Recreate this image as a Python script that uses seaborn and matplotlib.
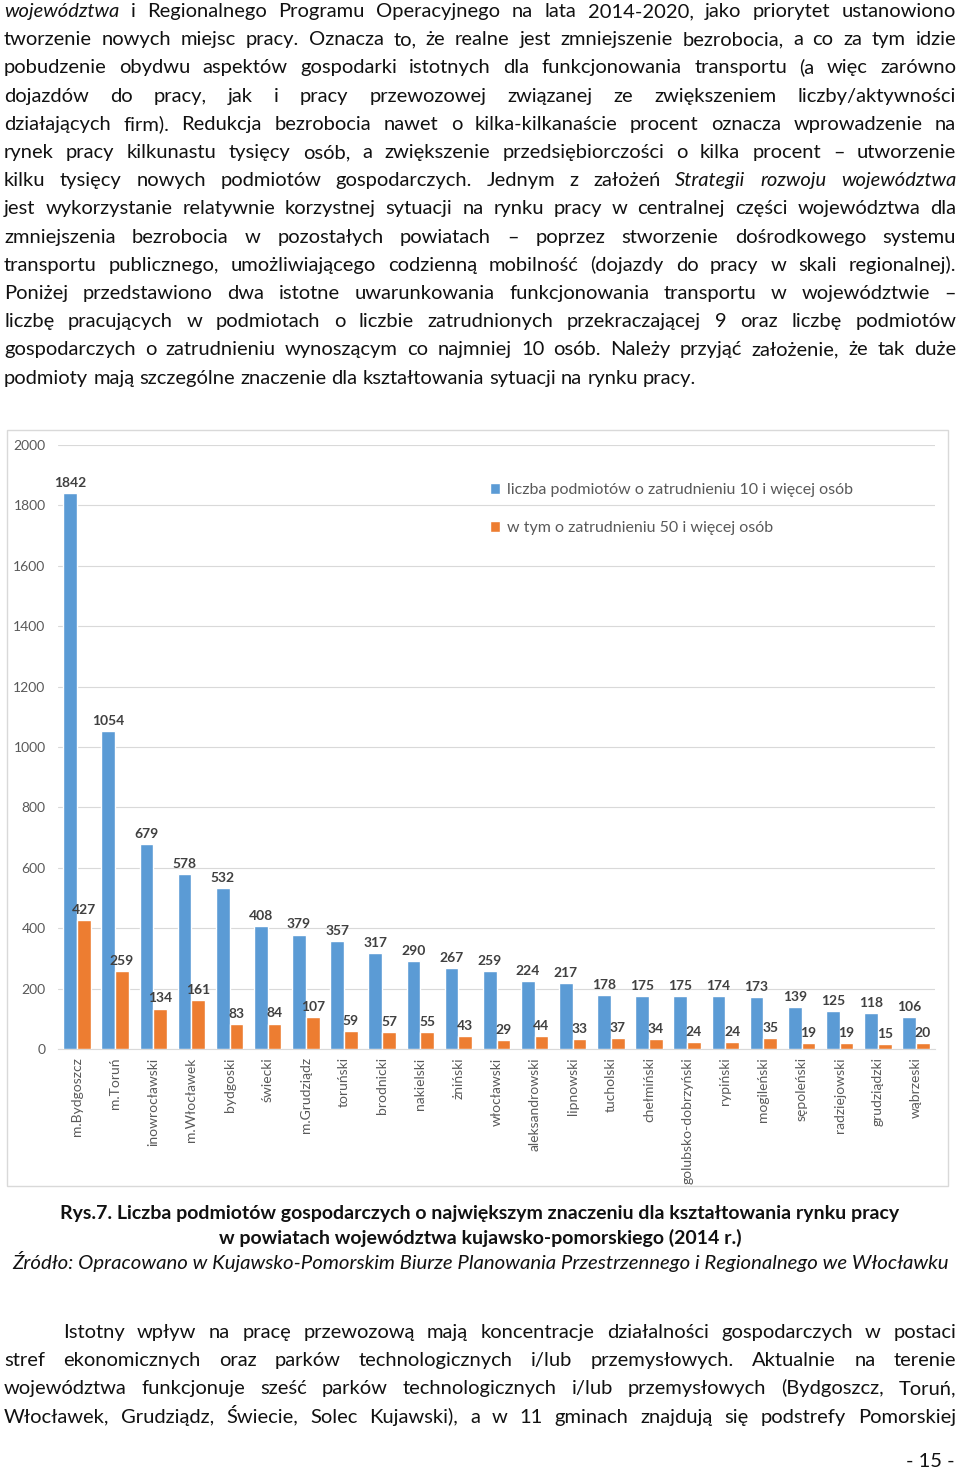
import pandas as pd
import matplotlib.pyplot as plt
import matplotlib.patches as mpatches
import seaborn as sns

# --- dane z wykresu (Rys.7) ---
powiaty = [
    "m.Bydgoszcz", "m.Toruń", "inowrocławski", "m.Włocławek", "bydgoski", "świecki",
    "m.Grudziądz", "toruński", "brodnicki", "nakielski", "żniński", "włocławski",
    "aleksandrowski", "lipnowski", "tucholski", "chełmiński", "golubsko-dobrzyński",
    "rypiński", "mogileński", "sępoleński", "radziejowski", "grudziądzki", "wąbrzeski",
]
podmioty_10 = [1842, 1054, 679, 578, 532, 408, 379, 357, 317, 290, 267, 259,
               224, 217, 178, 175, 175, 174, 173, 139, 125, 118, 106]
podmioty_50 = [427, 259, 134, 161, 83, 84, 107, 59, 57, 55, 43, 29,
               44, 33, 37, 34, 24, 24, 35, 19, 19, 15, 20]
serie = ["liczba podmiotów o zatrudnieniu 10 i więcej osób",
         "w tym o zatrudnieniu 50 i więcej osób"]
y_ticks = list(range(0, 2001, 200))

# --- tekst strony (słowa z * pisane kursywą) ---
akapit_gora = [
    "*województwa i Regionalnego Programu Operacyjnego na lata 2014-2020, jako priorytet ustanowiono",
    "tworzenie nowych miejsc pracy. Oznacza to, że realne jest zmniejszenie bezrobocia, a co za tym idzie",
    "pobudzenie obydwu aspektów gospodarki istotnych dla funkcjonowania transportu (a więc zarówno",
    "dojazdów do pracy, jak i pracy przewozowej związanej ze zwiększeniem liczby/aktywności",
    "działających firm). Redukcja bezrobocia nawet o kilka-kilkanaście procent oznacza wprowadzenie na",
    "rynek pracy kilkunastu tysięcy osób, a zwiększenie przedsiębiorczości o kilka procent – utworzenie",
    "kilku tysięcy nowych podmiotów gospodarczych. Jednym z założeń *Strategii *rozwoju *województwa",
    "jest wykorzystanie relatywnie korzystnej sytuacji na rynku pracy w centralnej części województwa dla",
    "zmniejszenia bezrobocia w pozostałych powiatach – poprzez stworzenie dośrodkowego systemu",
    "transportu publicznego, umożliwiającego codzienną mobilność (dojazdy do pracy w skali regionalnej).",
    "Poniżej przedstawiono dwa istotne uwarunkowania funkcjonowania transportu w województwie –",
    "liczbę pracujących w podmiotach o liczbie zatrudnionych przekraczającej 9 oraz liczbę podmiotów",
    "gospodarczych o zatrudnieniu wynoszącym co najmniej 10 osób. Należy przyjąć założenie, że tak duże",
    "podmioty mają szczególne znaczenie dla kształtowania sytuacji na rynku pracy.",
]
akapit_dol = [
    "Istotny wpływ na pracę przewozową mają koncentracje działalności gospodarczych w postaci",
    "stref ekonomicznych oraz parków technologicznych i/lub przemysłowych. Aktualnie na terenie",
    "województwa funkcjonuje sześć parków technologicznych i/lub przemysłowych (Bydgoszcz, Toruń,",
    "Włocławek, Grudziądz, Świecie, Solec Kujawski), a w 11 gminach znajdują się podstrefy Pomorskiej",
]
podpis = ["Rys.7. Liczba podmiotów gospodarczych o największym znaczeniu dla kształtowania rynku pracy",
          "w powiatach województwa kujawsko-pomorskiego (2014 r.)"]
zrodlo = "Źródło: Opracowano w Kujawsko-Pomorskim Biurze Planowania Przestrzennego i Regionalnego we Włocławku"

BLUE = "#5B9BD5"
ORANGE = "#ED7D31"
GRAY = "#595959"
TXT = "#111111"

sns.set_style("white")
FONT = ["Lato", "DejaVu Sans"]
plt.rcParams["font.family"] = FONT

W, H = 960, 1472
fig = plt.figure(figsize=(W / 100, H / 100), dpi=100)
renderer = fig.canvas.get_renderer()


def fx(x):
    return x / W


def fy(y):
    return 1 - y / H


def width_of(s, size, weight="normal", style="normal"):
    t = fig.text(0, 0, s, fontsize=size, fontweight=weight, fontstyle=style)
    w = t.get_window_extent(renderer).width
    t.remove()
    return w


def split_words(line):
    out = []
    for w in line.split():
        if w.startswith("*"):
            out.append((w[1:], "italic"))
        else:
            out.append((w, "normal"))
    return out


def natural_width(line, size):
    parts = split_words(line)
    sp = width_of("a a", size) - width_of("aa", size)
    return sum(width_of(p, size, style=s) for p, s in parts) + sp * (len(parts) - 1)


def put_line(line, y, x0, x1, size, justify=True):
    parts = split_words(line)
    widths = [width_of(p, size, style=s) for p, s in parts]
    sp = width_of("a a", size) - width_of("aa", size)
    gap = (x1 - x0 - sum(widths)) / (len(parts) - 1) if justify and len(parts) > 1 else sp
    x = x0
    for (p, s), w in zip(parts, widths):
        fig.text(fx(x), fy(y), p, fontsize=size, fontstyle=s, color=TXT,
                 ha="left", va="baseline")
        x += w + gap


# rozmiar tekstu tak, by najciaśniejsza linia mieściła się w szerokości strony
just_lines = [(l, 952) for l in akapit_gora[:-1]] + [(akapit_dol[0], 893)] + [(l, 952) for l in akapit_dol[1:]]
body_size = min(14.5, min(10 * w / natural_width(l, 10) for l, w in just_lines))

for i, l in enumerate(akapit_gora):
    put_line(l, 17 + 28.2 * i, 4, 956, body_size, justify=i < len(akapit_gora) - 1)
for i, l in enumerate(akapit_dol):
    put_line(l, 1338 + 28.2 * i, 63 if i == 0 else 4, 956, body_size)

# podpis pod rysunkiem
cap_size = 10 * 836 / width_of(podpis[0], 10, weight="bold")
for y, l in zip([1219, 1244], podpis):
    fig.text(0.5, fy(y), l, fontsize=cap_size, fontweight="bold", color=TXT,
             ha="center", va="baseline")
src_size = 10 * 940 / width_of(zrodlo, 10, style="italic")
fig.text(fx(480), fy(1269), zrodlo, fontsize=src_size, fontstyle="italic", color=TXT,
         ha="center", va="baseline")
fig.text(fx(955), fy(1467), "- 15 -", fontsize=body_size, color=TXT, ha="right", va="baseline")

# ramka wykresu
fig.add_artist(mpatches.Rectangle((fx(7), fy(1186)), 941 / W, 756 / H, transform=fig.transFigure,
                                  fill=False, edgecolor="#d9d9d9", linewidth=1))

# --- wykres słupkowy ---
df = pd.DataFrame({
    "powiat": powiaty * 2,
    "seria": [serie[0]] * len(powiaty) + [serie[1]] * len(powiaty),
    "liczba": podmioty_10 + podmioty_50,
})

ax = fig.add_axes([fx(58), fy(1049), 877 / W, (1049 - 445) / H])
sns.barplot(data=df, x="powiat", y="liczba", hue="seria", palette=[BLUE, ORANGE],
            saturation=1, width=0.72, errorbar=None, ax=ax, zorder=3)

for cont in ax.containers:
    ax.bar_label(cont, fmt="%d", padding=3, fontsize=10, fontweight="bold", color="#404040")

handles, labels = ax.get_legend_handles_labels()
ax.get_legend().remove()
fig.legend(handles, labels, loc="upper left", bbox_to_anchor=(fx(490), fy(483)),
           frameon=False, fontsize=11.5, handlelength=0.65, handleheight=0.65,
           handletextpad=0.4, labelspacing=1.5, borderpad=0, borderaxespad=0,
           labelcolor=GRAY)

ax.set_ylim(0, 2000)
ax.set_yticks(y_ticks)
ax.set_xlim(-0.5, len(powiaty) - 0.5)
ax.set_xlabel("")
ax.set_ylabel("")
ax.yaxis.grid(True, color="#d9d9d9", linewidth=0.8, zorder=0)
ax.set_axisbelow(True)
for s in ["top", "right", "left"]:
    ax.spines[s].set_visible(False)
ax.spines["bottom"].set_color("#d9d9d9")
ax.tick_params(axis="y", length=0, pad=9, labelsize=10, labelcolor=GRAY)
ax.tick_params(axis="x", length=0, pad=6, labelsize=10, labelcolor=GRAY, labelrotation=90)

fig.savefig("out.png", dpi=100)
